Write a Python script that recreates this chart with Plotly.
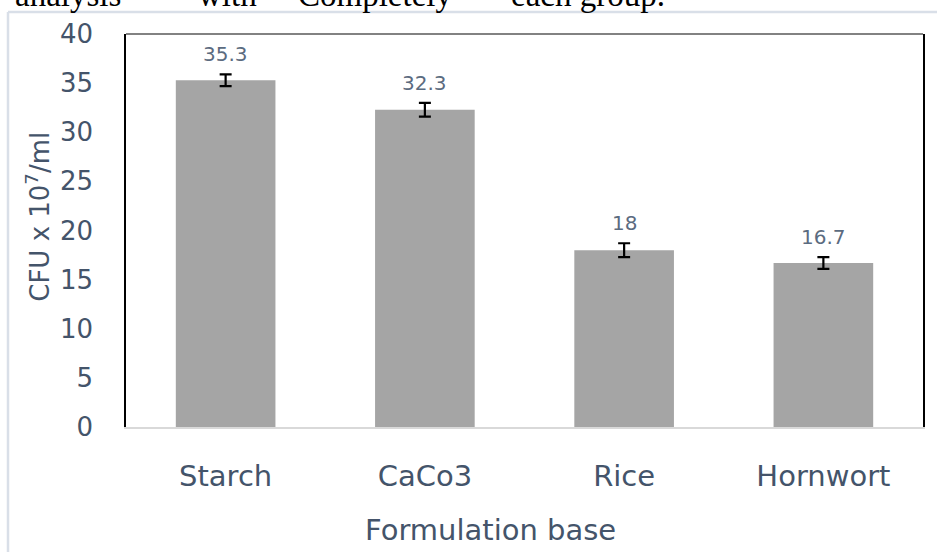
import plotly.graph_objects as go

categories = ["Starch", "CaCo3", "Rice", "Hornwort"]
values = [35.3, 32.3, 18, 16.7]
errors = [0.6, 0.7, 0.7, 0.6]
value_labels = ["35.3", "32.3", "18", "16.7"]
y_ticks = [0, 5, 10, 15, 20, 25, 30, 35, 40]
top_words = ["analysis", "with", "Completely", "each group."]
top_word_x = [68, 227, 375, 588]

W, H = 937, 552
L, R, T, B = 126, 923, 34, 427.5
PW, PH = R - L, B - T

def px_x(p):
    return (p - L) / PW

def px_y(q):
    return (B - q) / PH

TXT = "#44546a"
FONT = "DejaVu Sans"

fig = go.Figure()
fig.add_trace(go.Bar(
    x=categories, y=values,
    marker=dict(color="#a5a5a5", line=dict(width=0)),
    error_y=dict(type="data", array=errors, visible=True,
                 color="black", thickness=2.2, width=6),
    hoverinfo="skip",
))

annotations = []
for c, v, e, t in zip(categories, values, errors, value_labels):
    annotations.append(dict(x=c, y=v + e, xref="x", yref="y", text=t,
                            showarrow=False, yanchor="middle", yshift=20,
                            font=dict(family=FONT, size=20, color="#5b6b80")))

annotations.append(dict(x=px_x(490), y=px_y(531), xref="paper", yref="paper",
                        text="Formulation base", showarrow=False,
                        xanchor="center", yanchor="middle",
                        font=dict(family=FONT, size=29, color=TXT)))
annotations.append(dict(x=px_x(38), y=px_y(217), xref="paper", yref="paper",
                        text="CFU x 10<sup>7</sup>/ml", showarrow=False,
                        textangle=-90, xanchor="center", yanchor="middle",
                        font=dict(family=FONT, size=26, color=TXT)))
for w, xp in zip(top_words, top_word_x):
    annotations.append(dict(x=px_x(xp), y=px_y(-5), xref="paper", yref="paper",
                            text=w, showarrow=False, xanchor="center",
                            yanchor="middle",
                            font=dict(family="Liberation Serif", size=33,
                                      color="black")))

shapes = [
    # outer chart-area border
    dict(type="line", xref="paper", yref="paper",
         x0=px_x(8), x1=px_x(8), y0=px_y(12), y1=px_y(560),
         line=dict(color="#d9dfe8", width=2.5)),
    dict(type="line", xref="paper", yref="paper",
         x0=px_x(8), x1=px_x(945), y0=px_y(12), y1=px_y(12),
         line=dict(color="#d9dfe8", width=2.5)),
    # top frame line
    dict(type="line", xref="paper", yref="paper",
         x0=0, x1=1, y0=1, y1=1, line=dict(color="#595959", width=1.5)),
]

fig.update_layout(
    width=W, height=H,
    margin=dict(l=L, r=W - R, t=T, b=H - B, pad=0),
    paper_bgcolor="white", plot_bgcolor="white",
    bargap=0.5, showlegend=False,
    annotations=annotations, shapes=shapes,
    xaxis=dict(type="category", showgrid=False, showline=True,
               linecolor="#d9d9d9", linewidth=1.5, mirror=False,
               ticks="outside", ticklen=0, ticklabelstandoff=22,
               tickfont=dict(family=FONT, size=29, color=TXT),
               zeroline=False),
    yaxis=dict(range=[0, 40], tickvals=y_ticks, showgrid=False,
               showline=True, linecolor="black", linewidth=1.5, mirror=True,
               ticks="outside", ticklen=0, ticklabelstandoff=26,
               tickfont=dict(family=FONT, size=26, color=TXT),
               zeroline=False),
)

fig.write_html(
    "out.html",
    config={"displayModeBar": False},
    post_script="document.body.style.margin='0px';"
                "document.body.style.overflow='hidden';",
)
